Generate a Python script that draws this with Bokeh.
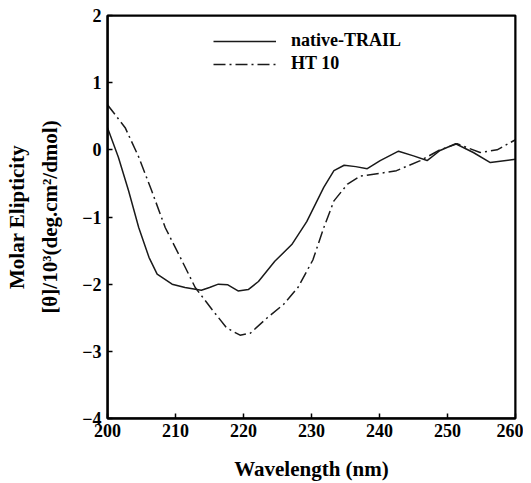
from bokeh.plotting import figure
from bokeh.models import Range1d, Legend, LegendItem, FixedTicker, BoxAnnotation
from bokeh.embed import file_html
from bokeh.resources import INLINE

# Data
native_x = [200.0, 201.6, 203.1, 204.6, 206.1, 207.3, 209.5, 211.4, 213.8, 215.0, 216.3,
            217.7, 219.2, 220.7, 222.2, 224.6, 227.1, 229.3, 231.8, 233.3, 234.8, 236.5,
            238.2, 240.1, 242.8, 245.0, 247.0, 248.9, 251.2, 253.8, 256.3, 260.0]
native_y = [0.33, -0.11, -0.61, -1.16, -1.60, -1.85, -2.00, -2.05, -2.09, -2.05, -2.00,
            -2.01, -2.10, -2.08, -1.96, -1.66, -1.41, -1.07, -0.56, -0.31, -0.23, -0.25,
            -0.28, -0.16, -0.02, -0.09, -0.16, -0.01, 0.09, -0.04, -0.19, -0.14]

ht10_x = [200.0, 202.6, 204.6, 206.5, 208.5, 210.5, 212.9, 215.4, 217.5, 219.5, 221.0,
          223.5, 225.9, 228.0, 230.2, 231.8, 233.3, 235.3, 237.2, 240.1, 242.5, 246.0,
          248.9, 251.4, 254.8, 257.3, 260.0]
ht10_y = [0.67, 0.33, -0.11, -0.61, -1.16, -1.56, -2.05, -2.38, -2.65, -2.76, -2.73,
          -2.50, -2.30, -2.05, -1.64, -1.16, -0.76, -0.51, -0.39, -0.35, -0.31, -0.16,
          0.00, 0.09, -0.04, 0.00, 0.15]

x_ticks = [200, 210, 220, 230, 240, 250, 260]
y_ticks = [-4, -3, -2, -1, 0, 1, 2]

FONT = "Liberation Serif"

p = figure(width=523, height=483, frame_width=408, frame_height=403,
           min_border_left=107, min_border_right=8, min_border_top=15, min_border_bottom=65,
           x_range=Range1d(200, 260), y_range=Range1d(-4, 2),
           output_backend="svg", toolbar_location=None, tools="")

p.background_fill_color = "white"
p.border_fill_color = "white"
p.outline_line_color = "black"
p.outline_line_width = 2
p.xgrid.visible = False
p.ygrid.visible = False

# box around the whole frame (no bounds -> spans the frame)
p.add_layout(BoxAnnotation(fill_alpha=0, line_color="black", line_width=2, line_alpha=1))

r1 = p.line(native_x, native_y, line_color="#1a1a1a", line_width=1.5)
r2 = p.line(ht10_x, ht10_y, line_color="#1a1a1a", line_width=1.5, line_dash="12 4 2 4")

for ax in (p.xaxis[0], p.yaxis[0]):
    ax.axis_line_width = 2
    ax.axis_line_color = "black"
    ax.major_tick_in = 5
    ax.major_tick_out = 0
    ax.major_tick_line_width = 1.5
    ax.major_tick_line_color = "black"
    ax.minor_tick_in = 0
    ax.minor_tick_out = 0
    ax.major_label_text_font = FONT
    ax.major_label_text_font_style = "bold"
    ax.major_label_text_font_size = "18px"
    ax.major_label_text_color = "black"
    ax.axis_label_text_font = FONT
    ax.axis_label_text_font_style = "bold"
    ax.axis_label_text_font_size = "21px"
    ax.axis_label_text_color = "black"

p.xaxis[0].ticker = FixedTicker(ticks=x_ticks)
p.yaxis[0].ticker = FixedTicker(ticks=y_ticks)
p.xaxis[0].major_label_standoff = 5
p.yaxis[0].major_label_standoff = 6
p.xaxis[0].axis_label = "Wavelength (nm)"
p.xaxis[0].axis_label_standoff = 17
p.yaxis[0].axis_label = "Molar Elipticity\n[θ]/10³(deg.cm²/dmol)"
p.yaxis[0].axis_label_standoff = 17
p.yaxis[0].axis_label_text_line_height = 1.38

legend = Legend(items=[LegendItem(label="native-TRAIL", renderers=[r1]),
                       LegendItem(label="HT 10", renderers=[r2])],
                location=(106, 344), glyph_width=63, glyph_height=20,
                label_height=20, label_standoff=15, spacing=2, padding=0, margin=0,
                border_line_color=None, background_fill_alpha=0,
                label_text_font=FONT, label_text_font_style="bold",
                label_text_font_size="18px", label_text_color="black")
p.add_layout(legend)

open("out.html", "w").write(file_html(p, INLINE))
